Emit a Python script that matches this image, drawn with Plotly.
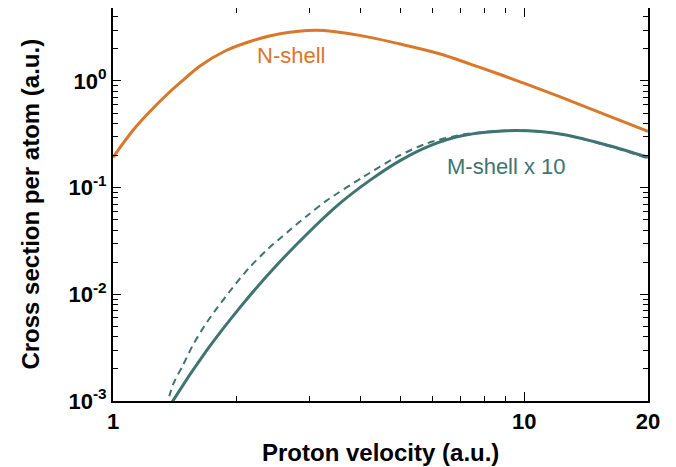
import math
import plotly.graph_objects as go

# N-shell cross section (a.u.)
n_v = [1.0, 1.12, 1.23, 1.353, 1.497, 1.628, 1.873, 2.154, 2.548, 3.13, 4.01, 4.99, 6.25, 7.39, 8.74, 9.94, 12.24, 16.2, 20.0]
n_y = [0.192, 0.347, 0.518, 0.747, 1.055, 1.382, 1.91, 2.346, 2.77, 2.99, 2.66, 2.22, 1.79, 1.44, 1.15, 0.958, 0.708, 0.463, 0.337]

# M-shell x 10, solid
ms_v = [1.338, 1.40, 1.69, 2.037, 2.455, 2.96, 3.567, 4.22, 4.99, 5.91, 7.10, 9.09, 10.94, 12.44, 16.2, 20.0]
ms_y = [0.000747, 0.00101, 0.00298, 0.00755, 0.01735, 0.0366, 0.0715, 0.1176, 0.1793, 0.248, 0.3078, 0.3415, 0.3357, 0.3146, 0.2453, 0.192]

# M-shell x 10, dashed
md_v = [1.301, 1.40, 1.478, 1.563, 1.668, 1.798, 1.955, 2.146, 2.378, 2.66, 2.977, 3.30, 4.06, 4.90, 5.80, 7.10, 9.09, 10.94, 12.44, 16.2, 20.0]
md_y = [0.000518, 0.00143, 0.00215, 0.00332, 0.00504, 0.0076, 0.01156, 0.0178, 0.0265, 0.0385, 0.0552, 0.0752, 0.126, 0.194, 0.26, 0.315, 0.343, 0.336, 0.315, 0.243, 0.188]

x_major = [1, 10, 20]
x_major_text = ["1", "10", "20"]
x_minor = [2, 3, 4, 5, 6, 7, 8, 9]
y_major = [0.001, 0.01, 0.1, 1]
y_major_text = ["10<sup>-3</sup>", "10<sup>-2</sup>", "10<sup>-1</sup>", "10<sup>0</sup>"]
y_minor = [m * 10 ** e for e in range(-3, 1) for m in range(2, 10) if m * 10 ** e < 5.2]

ORANGE = "#D9772B"
TEAL = "#3F7471"
FONT = "Liberation Sans, Arial, sans-serif"

fig = go.Figure()
fig.add_trace(go.Scatter(x=n_v, y=n_y, mode="lines", line=dict(color=ORANGE, width=3, shape="spline", smoothing=1.0), showlegend=False))
fig.add_trace(go.Scatter(x=md_v, y=md_y, mode="lines", line=dict(color=TEAL, width=2, dash="7px,5px", shape="spline", smoothing=0.8), showlegend=False))
fig.add_trace(go.Scatter(x=ms_v, y=ms_y, mode="lines", line=dict(color=TEAL, width=3, shape="spline", smoothing=0.8), showlegend=False))

fig.add_annotation(x=math.log10(2.71), y=math.log10(1.75), text="N-shell", showarrow=False,
                   font=dict(family=FONT, size=22, color=ORANGE))
fig.add_annotation(x=math.log10(9.04), y=math.log10(0.159), text="M-shell x 10", showarrow=False,
                   font=dict(family=FONT, size=22, color=TEAL))

# axis titles
fig.add_annotation(xref="paper", yref="paper", x=0.5, y=-0.13, yanchor="middle", xanchor="center",
                   text="<b>Proton velocity (a.u.)</b>", showarrow=False,
                   font=dict(family=FONT, size=24, color="black"))
fig.add_annotation(xref="paper", yref="paper", x=-0.155, y=0.5, xanchor="center", yanchor="middle",
                   text="<b>Cross section per atom (a.u.)</b>", textangle=-90, showarrow=False,
                   font=dict(family=FONT, size=24, color="black"))

fig.update_layout(
    width=676, height=467,
    margin=dict(l=105, r=36, t=0, b=74),
    plot_bgcolor="white", paper_bgcolor="white",
    font=dict(family=FONT, color="black"),
    xaxis=dict(
        type="log", range=[0, math.log10(20)], automargin=False,
        tickmode="array", tickvals=x_major, ticktext=["<b>%s</b>" % t for t in x_major_text],
        ticks="inside", ticklen=9, tickwidth=1.2, tickcolor="black",
        minor=dict(tickmode="array", tickvals=x_minor, ticks="inside", ticklen=5, tickwidth=1.2, tickcolor="black"),
        showline=True, linecolor="black", linewidth=2, mirror="ticks",
        showgrid=False, zeroline=False,
        tickfont=dict(size=22, family=FONT),
    ),
    yaxis=dict(
        type="log", range=[-3, 0.684], automargin=False,
        tickmode="array", tickvals=y_major, ticktext=["<b>%s</b>" % t for t in y_major_text],
        ticks="inside", ticklen=8, tickwidth=1.2, tickcolor="black",
        minor=dict(tickmode="array", tickvals=y_minor, ticks="inside", ticklen=5, tickwidth=1.2, tickcolor="black"),
        showline=True, linecolor="black", linewidth=2, mirror="ticks",
        showgrid=False, zeroline=False,
        tickfont=dict(size=22, family=FONT),
    ),
)

fig.write_html("out.html")
